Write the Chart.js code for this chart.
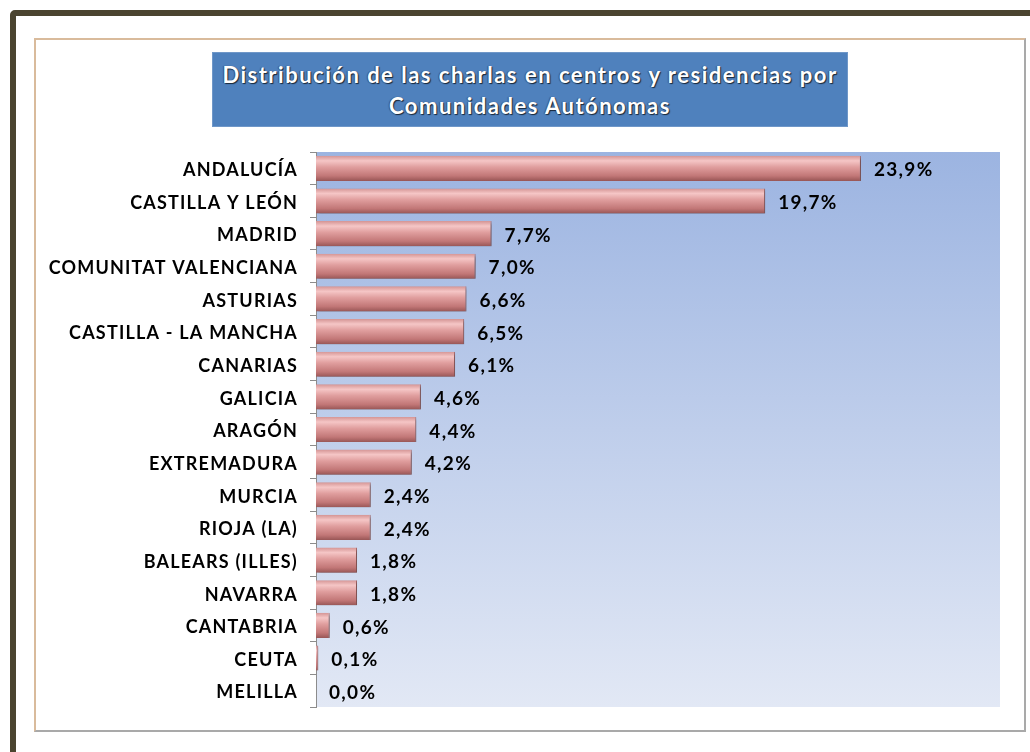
<!DOCTYPE html>
<html>
<head>
<meta charset="utf-8">
<script src="https://cdn.jsdelivr.net/npm/chart.js@4/dist/chart.umd.min.js"></script>
<style>
  html, body { margin: 0; padding: 0; background: #fff; }
  #page { position: relative; width: 1030px; height: 752px; overflow: hidden; background: #fff; }
  #frame { position: absolute; left: 10px; top: 10px; width: 1040px; height: 760px;
    border: 6px solid #4b4430; border-radius: 5px; box-sizing: border-box; }
  #panel { position: absolute; left: 34px; top: 38px; width: 992px; height: 694px; box-sizing: border-box;
    border-top: 2px solid #d9bb9c; border-left: 2px solid #d9bb9c;
    border-right: 2px solid #a9a9a9; border-bottom: 2px solid #a9a9a9; }
  #title { position: absolute; left: 212px; top: 52px; width: 636px; height: 75px; box-sizing: border-box;
    background: #4f81bd; border: 1px solid #6f97c8;
    color: #fff; font-family: Lato, "Open Sans", sans-serif; font-weight: bold; font-size: 22px;
    letter-spacing: 1.5px; line-height: 31px; text-align: center; padding-top: 6px;
    text-shadow: 1px 1px 1px rgba(0,0,0,0.7), -1px 0 1px rgba(0,0,0,0.35); }
  canvas { position: absolute; left: 0; top: 0; }
</style>
</head>
<body>
<div id="page">
  <div id="frame"></div>
  <div id="panel"></div>
  <div id="title">Distribución de las charlas en centros y residencias por<br>Comunidades Autónomas</div>
  <canvas id="chartCharlas" width="1030" height="752"></canvas>
</div>
<script>
var categories = ['ANDALUCÍA', 'CASTILLA Y LEÓN', 'MADRID', 'COMUNITAT VALENCIANA', 'ASTURIAS',
  'CASTILLA - LA MANCHA', 'CANARIAS', 'GALICIA', 'ARAGÓN', 'EXTREMADURA', 'MURCIA',
  'RIOJA (LA)', 'BALEARS (ILLES)', 'NAVARRA', 'CANTABRIA', 'CEUTA', 'MELILLA'];
var percentages = [23.9, 19.7, 7.7, 7.0, 6.6, 6.5, 6.1, 4.6, 4.4, 4.2, 2.4, 2.4, 1.8, 1.8, 0.6, 0.1, 0.0];
var axisMax = 30;

var LABEL_FONT = 'Lato, "Open Sans", sans-serif';

// gradient for the plot area, blue at top fading to pale
// (also widens the tick labels a little, the original font is broad)
var plotBackground = {
  id: 'plotBackground',
  beforeDraw: function(chart) {
    var a = chart.chartArea, ctx = chart.ctx;
    var g = ctx.createLinearGradient(0, a.top, 0, a.bottom);
    g.addColorStop(0, '#9cb4e1');
    g.addColorStop(1, '#e2e8f5');
    ctx.save();
    ctx.fillStyle = g;
    ctx.fillRect(a.left, a.top, a.right - a.left, a.bottom - a.top);
    ctx.restore();
    ctx.letterSpacing = '1.2px';
  }
};

// soft drop shadow under the bars
var barShadow = {
  id: 'barShadow',
  beforeDatasetsDraw: function(chart) {
    var ctx = chart.ctx;
    ctx.letterSpacing = '0px';
    ctx.save();
    ctx.shadowColor = 'rgba(0,0,0,0.35)';
    ctx.shadowOffsetX = 2;
    ctx.shadowOffsetY = 2;
    ctx.shadowBlur = 3;
  },
  afterDatasetsDraw: function(chart) {
    chart.ctx.restore();
  }
};

// value labels at the end of every bar
var valueLabels = {
  id: 'valueLabels',
  afterDatasetsDraw: function(chart) {
    var ctx = chart.ctx;
    var meta = chart.getDatasetMeta(0);
    ctx.save();
    ctx.fillStyle = '#000';
    ctx.font = 'bold 19px ' + LABEL_FONT;
    ctx.letterSpacing = '1.3px';
    ctx.textAlign = 'left';
    ctx.textBaseline = 'middle';
    meta.data.forEach(function(bar, i) {
      var txt = percentages[i].toFixed(1).replace('.', ',') + '%';
      ctx.fillText(txt, bar.x + 13, bar.y + 2);
    });
    ctx.restore();
  }
};

function barFill(context) {
  var chart = context.chart;
  if (!chart.chartArea || !chart.scales.y) return '#d99494';
  var yScale = chart.scales.y;
  var y = yScale.getPixelForValue(context.dataIndex);
  var half = yScale.height / categories.length * 0.77 / 2;
  var g = chart.ctx.createLinearGradient(0, y - half, 0, y + half);
  g.addColorStop(0, '#d49494');
  g.addColorStop(0.2, '#f5c6c6');
  g.addColorStop(0.45, '#e09e9e');
  g.addColorStop(0.8, '#c27777');
  g.addColorStop(1, '#985656');
  return g;
}

function Init() {
  new Chart(document.getElementById('chartCharlas'), {
    type: 'bar',
    data: {
      labels: categories,
      datasets: [{
        data: percentages,
        backgroundColor: barFill,
        borderColor: '#a86464',
        borderWidth: { right: 1, top: 0, bottom: 0, left: 0 },
        categoryPercentage: 1,
        barPercentage: 0.77
      }]
    },
    plugins: [plotBackground, barShadow, valueLabels],
    options: {
      indexAxis: 'y',
      responsive: false,
      animation: false,
      devicePixelRatio: 1,
      layout: { padding: { left: 35, right: 30, top: 152, bottom: 45 } },
      plugins: { legend: { display: false }, tooltip: { enabled: false } },
      scales: {
        x: { display: false, min: 0, max: axisMax },
        y: {
          afterFit: function(scale) { scale.width = 281; },
          border: { display: true, color: '#8c8c8c', width: 1 },
          grid: { drawOnChartArea: false, drawTicks: true, tickLength: 6, color: '#8c8c8c', offset: true },
          ticks: {
            color: '#000',
            padding: 12,
            labelOffset: 2,
            autoSkip: false,
            font: { family: LABEL_FONT, weight: 'bold', size: 18 }
          }
        }
      }
    }
  });
}

Init();
</script>
</body>
</html>
